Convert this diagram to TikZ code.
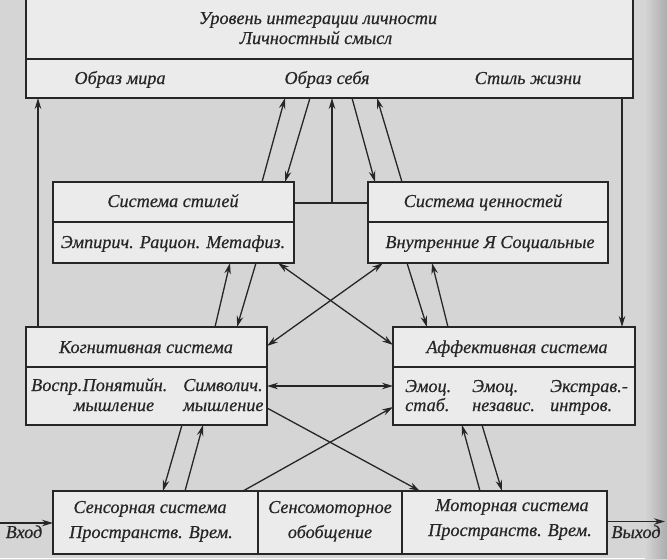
\documentclass[tikz,border=0pt]{standalone}
\usepackage{fontspec}
\setmainfont{Liberation Serif}[ItalicFeatures={FakeBold=0.5}]
\usetikzlibrary{arrows.meta,calc}
\definecolor{bgc}{HTML}{D5D5D5}
\definecolor{boxc}{HTML}{EBEBEB}
\definecolor{ink}{HTML}{262626}
\begin{document}
\begin{tikzpicture}[x=1pt,y=-1pt,
  box/.style={draw=ink,fill=boxc,line width=1.5pt,inner sep=0pt,outer sep=0pt,rectangle},
  lbl/.style={text=ink,font=\fontsize{18.2}{21}\selectfont\itshape,inner sep=0pt,anchor=base},
  con/.style={draw=ink,line width=1.3pt},
  sep/.style={draw=ink,line width=1.5pt},
  arr/.style={con,-{Stealth[length=11pt,width=6.5pt]}},
  darr/.style={con,{Stealth[length=11pt,width=6.5pt]}-{Stealth[length=11pt,width=6.5pt]}}
]
\useasboundingbox (0,0) rectangle (667,558);
\fill[bgc] (0,0) rectangle (667,558);
\shade[left color=bgc,right color=gray!65] (645,0) rectangle (667,558);

% boxes
\node[box,minimum width=607pt,minimum height=101pt] (T) at (329.5,47.5) {};
\node[box,minimum width=241pt,minimum height=81pt] (S) at (173.5,222.5) {};
\node[box,minimum width=240pt,minimum height=81pt] (V) at (488,222.5) {};
\node[box,minimum width=241pt,minimum height=98pt] (C) at (146.5,376) {};
\node[box,minimum width=242pt,minimum height=98pt] (A) at (514,376) {};
\node[box,minimum width=554pt,minimum height=63pt] (B) at (330,522.5) {};

% dividers
\draw[sep] ($(T.north west)+(0,62)$) -- ($(T.north east)+(0,62)$);
\draw[sep] ($(S.north west)+(0,40)$) -- ($(S.north east)+(0,40)$);
\draw[sep] ($(V.north west)+(0,40)$) -- ($(V.north east)+(0,40)$);
\draw[sep] ($(C.north west)+(0,40)$) -- ($(C.north east)+(0,40)$);
\draw[sep] ($(A.north west)+(0,40)$) -- ($(A.north east)+(0,40)$);
\draw[sep] ($(B.north west)+(205,0)$) -- ($(B.south west)+(205,0)$);
\draw[sep] ($(B.north west)+(349,0)$) -- ($(B.south west)+(349,0)$);

% texts
\node[lbl] (t1) at (318,24) {Уровень интеграции личности};
\node[lbl] (t2) at (316,44) {Личностный смысл};
\node[lbl] (t3) at (120,84) {Образ мира};
\node[lbl] (t4) at (327,84) {Образ себя};
\node[lbl] (t5) at (528,84) {Стиль жизни};
\node[lbl] (s1) at (173,207) {Система стилей};
\node[lbl] (s2) at (173,248) {Эмпирич. Рацион. Метафиз.};
\node[lbl] (v1) at (483,207) {Система ценностей};
\node[lbl] (v2) at (490,248) {Внутренние Я Социальные};
\node[lbl] (c1) at (146,353) {Когнитивная система};
\node[lbl,anchor=base west] (c2) at (31,391) {Воспр.};
\node[lbl] (c3) at (125,391) {Понятийн.};
\node[lbl] (c4) at (114,411) {мышление};
\node[lbl,anchor=base west] (c5) at (183,391) {Символич.};
\node[lbl,anchor=base west] (c6) at (183,411) {мышление};
\node[lbl] (a1) at (517,353) {Аффективная система};
\node[lbl,anchor=base west] (a2) at (405,392) {Эмоц.};
\node[lbl,anchor=base west] (a3) at (405,411) {стаб.};
\node[lbl,anchor=base west] (a4) at (472,392) {Эмоц.};
\node[lbl,anchor=base west] (a5) at (472,411) {независ.};
\node[lbl,anchor=base west] (a6) at (550,392) {Экстрав.-};
\node[lbl,anchor=base west] (a7) at (550,411) {интров.};
\node[lbl] (b1) at (150,513) {Сенсорная система};
\node[lbl] (b2) at (151,538) {Пространств. Врем.};
\node[lbl] (b3) at (330,513) {Сенсомоторное};
\node[lbl] (b4) at (330,538) {обобщение};
\node[lbl] (b5) at (512,511) {Моторная система};
\node[lbl] (b6) at (510,536) {Пространств. Врем.};
\node[lbl] (in) at (24,538) {Вход};
\node[lbl] (out) at (636,538) {Выход};

% connectors
\draw[arr] ($(C.north west)+(12,0)$) -- ($(T.south west)+(12,0)$);
\draw[arr] ($(T.south west)+(596,0)$) -- ($(A.north west)+(229,0)$);
\coordinate (J) at (332,203);
\draw[con] ($(S.north east)+(0,21)$) -- ($(V.north west)+(0,21)$);
\draw[arr] (J) -- (T.south -| J);
\draw[arr] ($(S.north west)+(209,0)$) -- ($(T.south west)+(259,0)$);
\draw[arr] ($(T.south west)+(284,0)$) -- ($(S.north west)+(232,0)$);
\draw[arr] ($(V.north west)+(34,0)$) -- ($(T.south west)+(351,0)$);
\draw[arr] ($(T.south west)+(326,0)$) -- ($(V.north west)+(7,0)$);
\draw[arr] ($(C.north west)+(189,0)$) -- ($(S.south west)+(177,0)$);
\draw[arr] ($(S.south west)+(203,0)$) -- ($(C.north west)+(211,0)$);
\draw[arr] ($(V.south west)+(39,0)$) -- ($(A.north west)+(34,0)$);
\draw[arr] ($(A.north west)+(55,0)$) -- ($(V.south west)+(64,0)$);
\draw[darr] ($(S.south west)+(225,0)$) -- ($(A.north west)+(0,18)$);
\draw[darr] ($(V.south west)+(15,0)$) -- ($(C.north east)+(0,19)$);
\draw[darr] ($(C.north east)+(0,59)$) -- ($(A.north west)+(0,59)$);
\draw[arr] ($(C.north east)+(0,81)$) -- ($(B.north west)+(367,0)$);
\draw[arr] ($(B.north west)+(190,0)$) -- ($(A.north west)+(0,80)$);
\draw[arr] ($(C.south west)+(156,0)$) -- ($(B.north west)+(110,0)$);
\draw[arr] ($(B.north west)+(132,0)$) -- ($(C.south west)+(177,0)$);
\draw[arr] ($(B.north west)+(427,0)$) -- ($(A.south west)+(69,0)$);
\draw[arr] ($(A.south west)+(89,0)$) -- ($(B.north west)+(449,0)$);
\coordinate (I) at (0,523);
\coordinate (O) at (665,521.5);
\draw[arr] (I) -- (I -| B.west);
\draw[arr] (B.east |- O) -- (O);
\end{tikzpicture}
\end{document}
